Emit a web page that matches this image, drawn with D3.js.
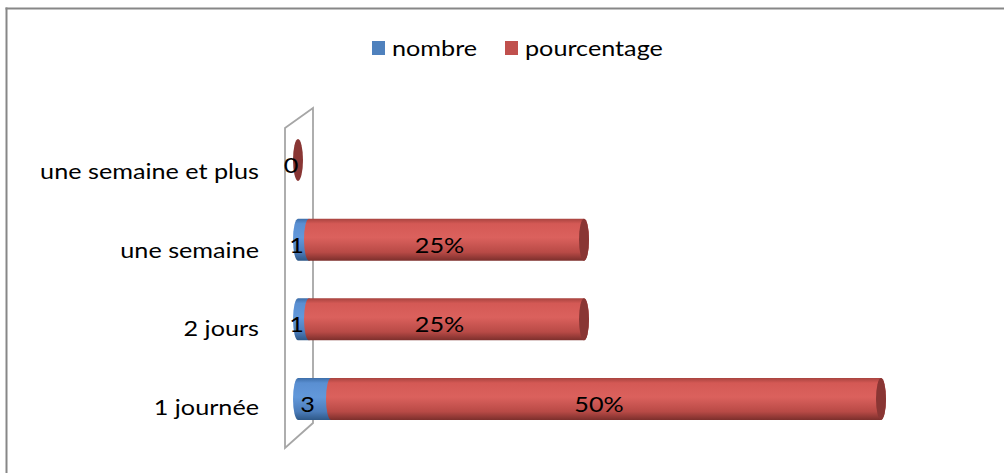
<!DOCTYPE html>
<html>
<head>
<meta charset="utf-8">
<script src="https://cdn.jsdelivr.net/npm/d3@7"></script>
<style>
  body { margin: 0; background: #fff; }
  svg { display: block; font-family: Lato, "Open Sans", sans-serif; }
</style>
</head>
<body>
<div id="chart"></div>
<script>
// Data
const categories = ["une semaine et plus", "une semaine", "2 jours", "1 journée"];
const nombre = [0, 1, 1, 3];
const pourcentage = [0, 25, 25, 50];
const seriesNames = ["nombre", "pourcentage"];

const W = 1004, H = 473;
const stretch = 1.2; // the source picture is stretched horizontally
const fontSize = 21;

const svg = d3.select("#chart").append("svg").attr("width", W).attr("height", H);

const defs = svg.append("defs");
function cylGradient(id, stops) {
  const g = defs.append("linearGradient").attr("id", id)
    .attr("x1", 0).attr("y1", 0).attr("x2", 0).attr("y2", 1);
  stops.forEach(([o, c]) => g.append("stop").attr("offset", o).attr("stop-color", c));
}
cylGradient("gBlue", [[0, "#3d6ea9"], [0.12, "#5a8fd2"], [0.45, "#6298da"], [0.8, "#4b7cba"], [1, "#2e5888"]]);
cylGradient("gRed", [[0, "#a8433f"], [0.12, "#d45955"], [0.45, "#db615d"], [0.8, "#b84a46"], [1, "#7c2f2c"]]);

// Chart area border (only top and left edges are inside the picture)
svg.append("line").attr("x1", 5.5).attr("x2", W).attr("y1", 8.5).attr("y2", 8.5)
  .attr("stroke", "#878787").attr("stroke-width", 2);
svg.append("line").attr("x1", 6.5).attr("x2", 6.5).attr("y1", 7.5).attr("y2", H)
  .attr("stroke", "#878787").attr("stroke-width", 2);

// Scales
const x = d3.scaleLinear().domain([0, 60]).range([298, 958]);
const y = d3.scalePoint().domain(categories).range([160, 399]);
const yLabel = d3.scalePoint().domain(categories).range([179, 415]);
const barH = 42, rx = 5;

// Back wall (3D plane)
const wall = [[285, 128], [313, 108], [313, 423], [285, 448]];
svg.append("path")
  .attr("d", d3.line()(wall) + "Z")
  .attr("fill", "none").attr("stroke", "#a6a6a6").attr("stroke-width", 1.8);

function addText(px, py, str, anchor, size) {
  svg.append("g")
    .attr("transform", `translate(${px},${py}) scale(${stretch},1)`)
    .append("text")
    .attr("text-anchor", anchor || "start")
    .attr("font-size", size || fontSize)
    .attr("fill", "#000")
    .text(str);
}

// Category labels
categories.forEach((c) => addText(259, yLabel(c), c, "end"));

// Cylinders
function segPath(x0, x1, cy) {
  const t = cy - barH / 2, b = cy + barH / 2;
  return `M${x0},${t}L${x1},${t}A${rx},${barH / 2} 0 0 1 ${x1},${b}L${x0},${b}A${rx},${barH / 2} 0 0 1 ${x0},${t}Z`;
}

const rows = categories.map((c, i) => ({ cat: c, n: nombre[i], p: pourcentage[i] }));
const bars = svg.selectAll(".row").data(rows).enter().append("g").attr("class", "row");

bars.each(function (d) {
  const g = d3.select(this);
  const cy = y(d.cat);
  const x0 = x(0), x1 = x(d.n), x2 = x(d.n + d.p);
  if (d.n > 0) {
    g.append("path").attr("d", segPath(x0, x1, cy)).attr("fill", "url(#gBlue)");
  }
  if (d.p > 0) {
    g.append("path").attr("d", segPath(x1, x2, cy)).attr("fill", "url(#gRed)");
  }
  // end face of the cylinder
  g.append("ellipse")
    .attr("cx", x2).attr("cy", cy)
    .attr("rx", rx).attr("ry", barH / 2)
    .attr("fill", d.p > 0 || d.n === 0 ? "#893634" : "#2f5a8c");
});

// Data labels
rows.forEach((d) => {
  const cy = y(d.cat);
  const x0 = x(0), x1 = x(d.n), x2 = x(d.n + d.p);
  addText((x0 + x1) / 2 - 7, cy + 13, d.n, "middle");
  if (d.p > 0) addText((x1 + x2) / 2 - 7, cy + 13, d.p + "%", "middle");
});

// Legend
const legendColors = ["#4f81bd", "#c0504d"];
const legendX = [372, 505];
seriesNames.forEach((s, i) => {
  svg.append("rect")
    .attr("x", legendX[i]).attr("y", 41)
    .attr("width", 13).attr("height", 14)
    .attr("fill", legendColors[i]);
  addText(legendX[i] + 20, 56, s, "start");
});
</script>
</body>
</html>
